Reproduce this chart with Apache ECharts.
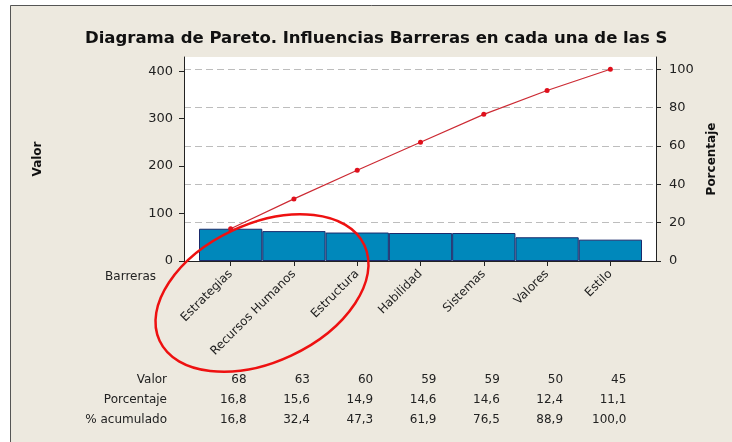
<!DOCTYPE html>
<html>
<head>
<meta charset="utf-8">
<script src="https://cdn.jsdelivr.net/npm/echarts@6/dist/echarts.min.js"></script>
<style>
  html, body { margin: 0; padding: 0; background: #fff; }
  #main { width: 732px; height: 442px; }
</style>
</head>
<body>
<div id="main"></div>
<script>
  // datos
  const categorias = ['Estrategias', 'Recursos Humanos', 'Estructura', 'Habilidad', 'Sistemas', 'Valores', 'Estilo'];
  const valores = [68, 63, 60, 59, 59, 50, 45];
  const porcentaje = [16.8, 15.6, 14.9, 14.6, 14.6, 12.4, 11.1];
  const acumulado = [16.8, 32.4, 47.3, 61.9, 76.5, 88.9, 100.0];
  const ticksValor = [0, 100, 200, 300, 400];
  const ticksPct = [0, 20, 40, 60, 80, 100];

  const maxValor = 430;
  const maxPct = 106.4;
  const FONT = 'DejaVu Sans';
  const fmt = (v) => v.toFixed(1).replace('.', ',');

  var chartDom = document.getElementById('main');
  var myChart = echarts.init(chartDom);

  const option = {
    backgroundColor: '#ffffff',
    animation: false,
    title: {
      text: 'Diagrama de Pareto. Influencias Barreras en cada una de las S',
      left: 80,
      top: 25,
      textStyle: { fontFamily: FONT, fontSize: 16.5, fontWeight: 'bold', color: '#111' },
    },
    grid: [
      // grid de ejes (fondo blanco)
      { left: 184, right: 76, top: 57, height: 204, show: true, backgroundColor: '#ffffff', borderWidth: 0 },
      // grid de datos
      { left: 199, right: 90, top: 57, height: 204 },
    ],
    xAxis: [
      {
        gridIndex: 0, type: 'value', min: 0, max: 1,
        axisLine: { show: true, lineStyle: { color: '#222', width: 1 } },
        axisTick: { show: false }, axisLabel: { show: false }, splitLine: { show: false },
      },
      {
        gridIndex: 1, type: 'category', data: categorias,
        axisLine: { show: false },
        axisTick: { show: true, alignWithLabel: true, length: 5, lineStyle: { color: '#222' } },
        axisLabel: {
          rotate: 45, interval: 0, margin: 11,
          fontFamily: FONT, fontSize: 12, color: '#222',
        },
      },
    ],
    yAxis: [
      {
        gridIndex: 0, type: 'value', position: 'left', min: 0, max: maxValor,
        name: 'Valor', nameLocation: 'middle', nameRotate: 90, nameGap: 140,
        nameTextStyle: { fontFamily: FONT, fontSize: 12, fontWeight: 'bold', color: '#111' },
        axisLine: { show: true, lineStyle: { color: '#222' } },
        axisTick: { show: true, length: 5, customValues: ticksValor, lineStyle: { color: '#222' } },
        axisLabel: { customValues: ticksValor, margin: 11, fontFamily: FONT, fontSize: 13, color: '#222' },
        splitLine: { show: false },
      },
      {
        gridIndex: 0, type: 'value', position: 'right', min: 0, max: maxPct,
        name: 'Porcentaje', nameLocation: 'middle', nameRotate: 90, nameGap: 50,
        nameTextStyle: { fontFamily: FONT, fontSize: 12, fontWeight: 'bold', color: '#111' },
        axisLine: { show: true, lineStyle: { color: '#222' } },
        axisTick: { show: true, length: 5, customValues: ticksPct, lineStyle: { color: '#222' } },
        axisLabel: { customValues: ticksPct, margin: 13, fontFamily: FONT, fontSize: 13, color: '#222' },
        splitLine: { show: true, showMinLine: false, lineStyle: { color: '#bdbdbd', type: [7, 4], width: 1 } },
      },
      { gridIndex: 1, type: 'value', min: 0, max: maxValor, show: false, splitLine: { show: false } },
      { gridIndex: 1, type: 'value', min: 0, max: maxPct, show: false, splitLine: { show: false } },
    ],
    series: [
      {
        name: 'Valor', type: 'bar', xAxisIndex: 1, yAxisIndex: 2,
        data: valores, barCategoryGap: '0%',
        itemStyle: { color: '#0088bb', borderColor: '#1b2a6b', borderWidth: 1 },
      },
      {
        name: '% acumulado', type: 'line', xAxisIndex: 1, yAxisIndex: 3,
        data: acumulado, symbol: 'circle', symbolSize: 5, z: 5,
        lineStyle: { color: '#cc2a33', width: 1.2 },
        itemStyle: { color: '#e0101c' },
      },
    ],
    graphic: [
      {
        id: 'marco', type: 'rect', z: -10, silent: true,
        shape: { x: 10.5, y: 5.5, width: 800, height: 500 },
        style: { fill: '#ede9df', stroke: '#555', lineWidth: 1 },
      },
      {
        id: 'elipse', type: 'ellipse', z: 100, x: 262, y: 293, rotation: 25 * Math.PI / 180,
        shape: { cx: 0, cy: 0, rx: 113, ry: 69 },
        style: { fill: 'none', stroke: '#ee1111', lineWidth: 2.5 },
      },
    ],
  };

  myChart.setOption(option);

  // tabla inferior alineada con las categorias
  const filas = [
    { nombre: 'Valor', vals: valores.map(String), y: 380 },
    { nombre: 'Porcentaje', vals: porcentaje.map(fmt), y: 400 },
    { nombre: '% acumulado', vals: acumulado.map(fmt), y: 419.5 },
  ];
  const textos = [];
  filas.forEach(function (f, r) {
    textos.push({
      id: 'lab' + r, type: 'text', x: 167, y: f.y, z: 50,
      style: { text: f.nombre, textAlign: 'right', textVerticalAlign: 'middle', font: '12px "' + FONT + '"', fill: '#222' },
    });
    f.vals.forEach(function (v, i) {
      var px = myChart.convertToPixel({ xAxisIndex: 1 }, categorias[i]);
      textos.push({
        id: 'c' + r + '_' + i, type: 'text', x: px + 16, y: f.y, z: 50,
        style: { text: v, textAlign: 'right', textVerticalAlign: 'middle', font: '12px "' + FONT + '"', fill: '#222' },
      });
    });
  });
  textos.push({
    id: 'barreras', type: 'text', x: 156, y: 277, z: 50,
    style: { text: 'Barreras', textAlign: 'right', textVerticalAlign: 'middle', font: '12px "' + FONT + '"', fill: '#222' },
  });
  myChart.setOption({ graphic: textos });
</script>
</body>
</html>
